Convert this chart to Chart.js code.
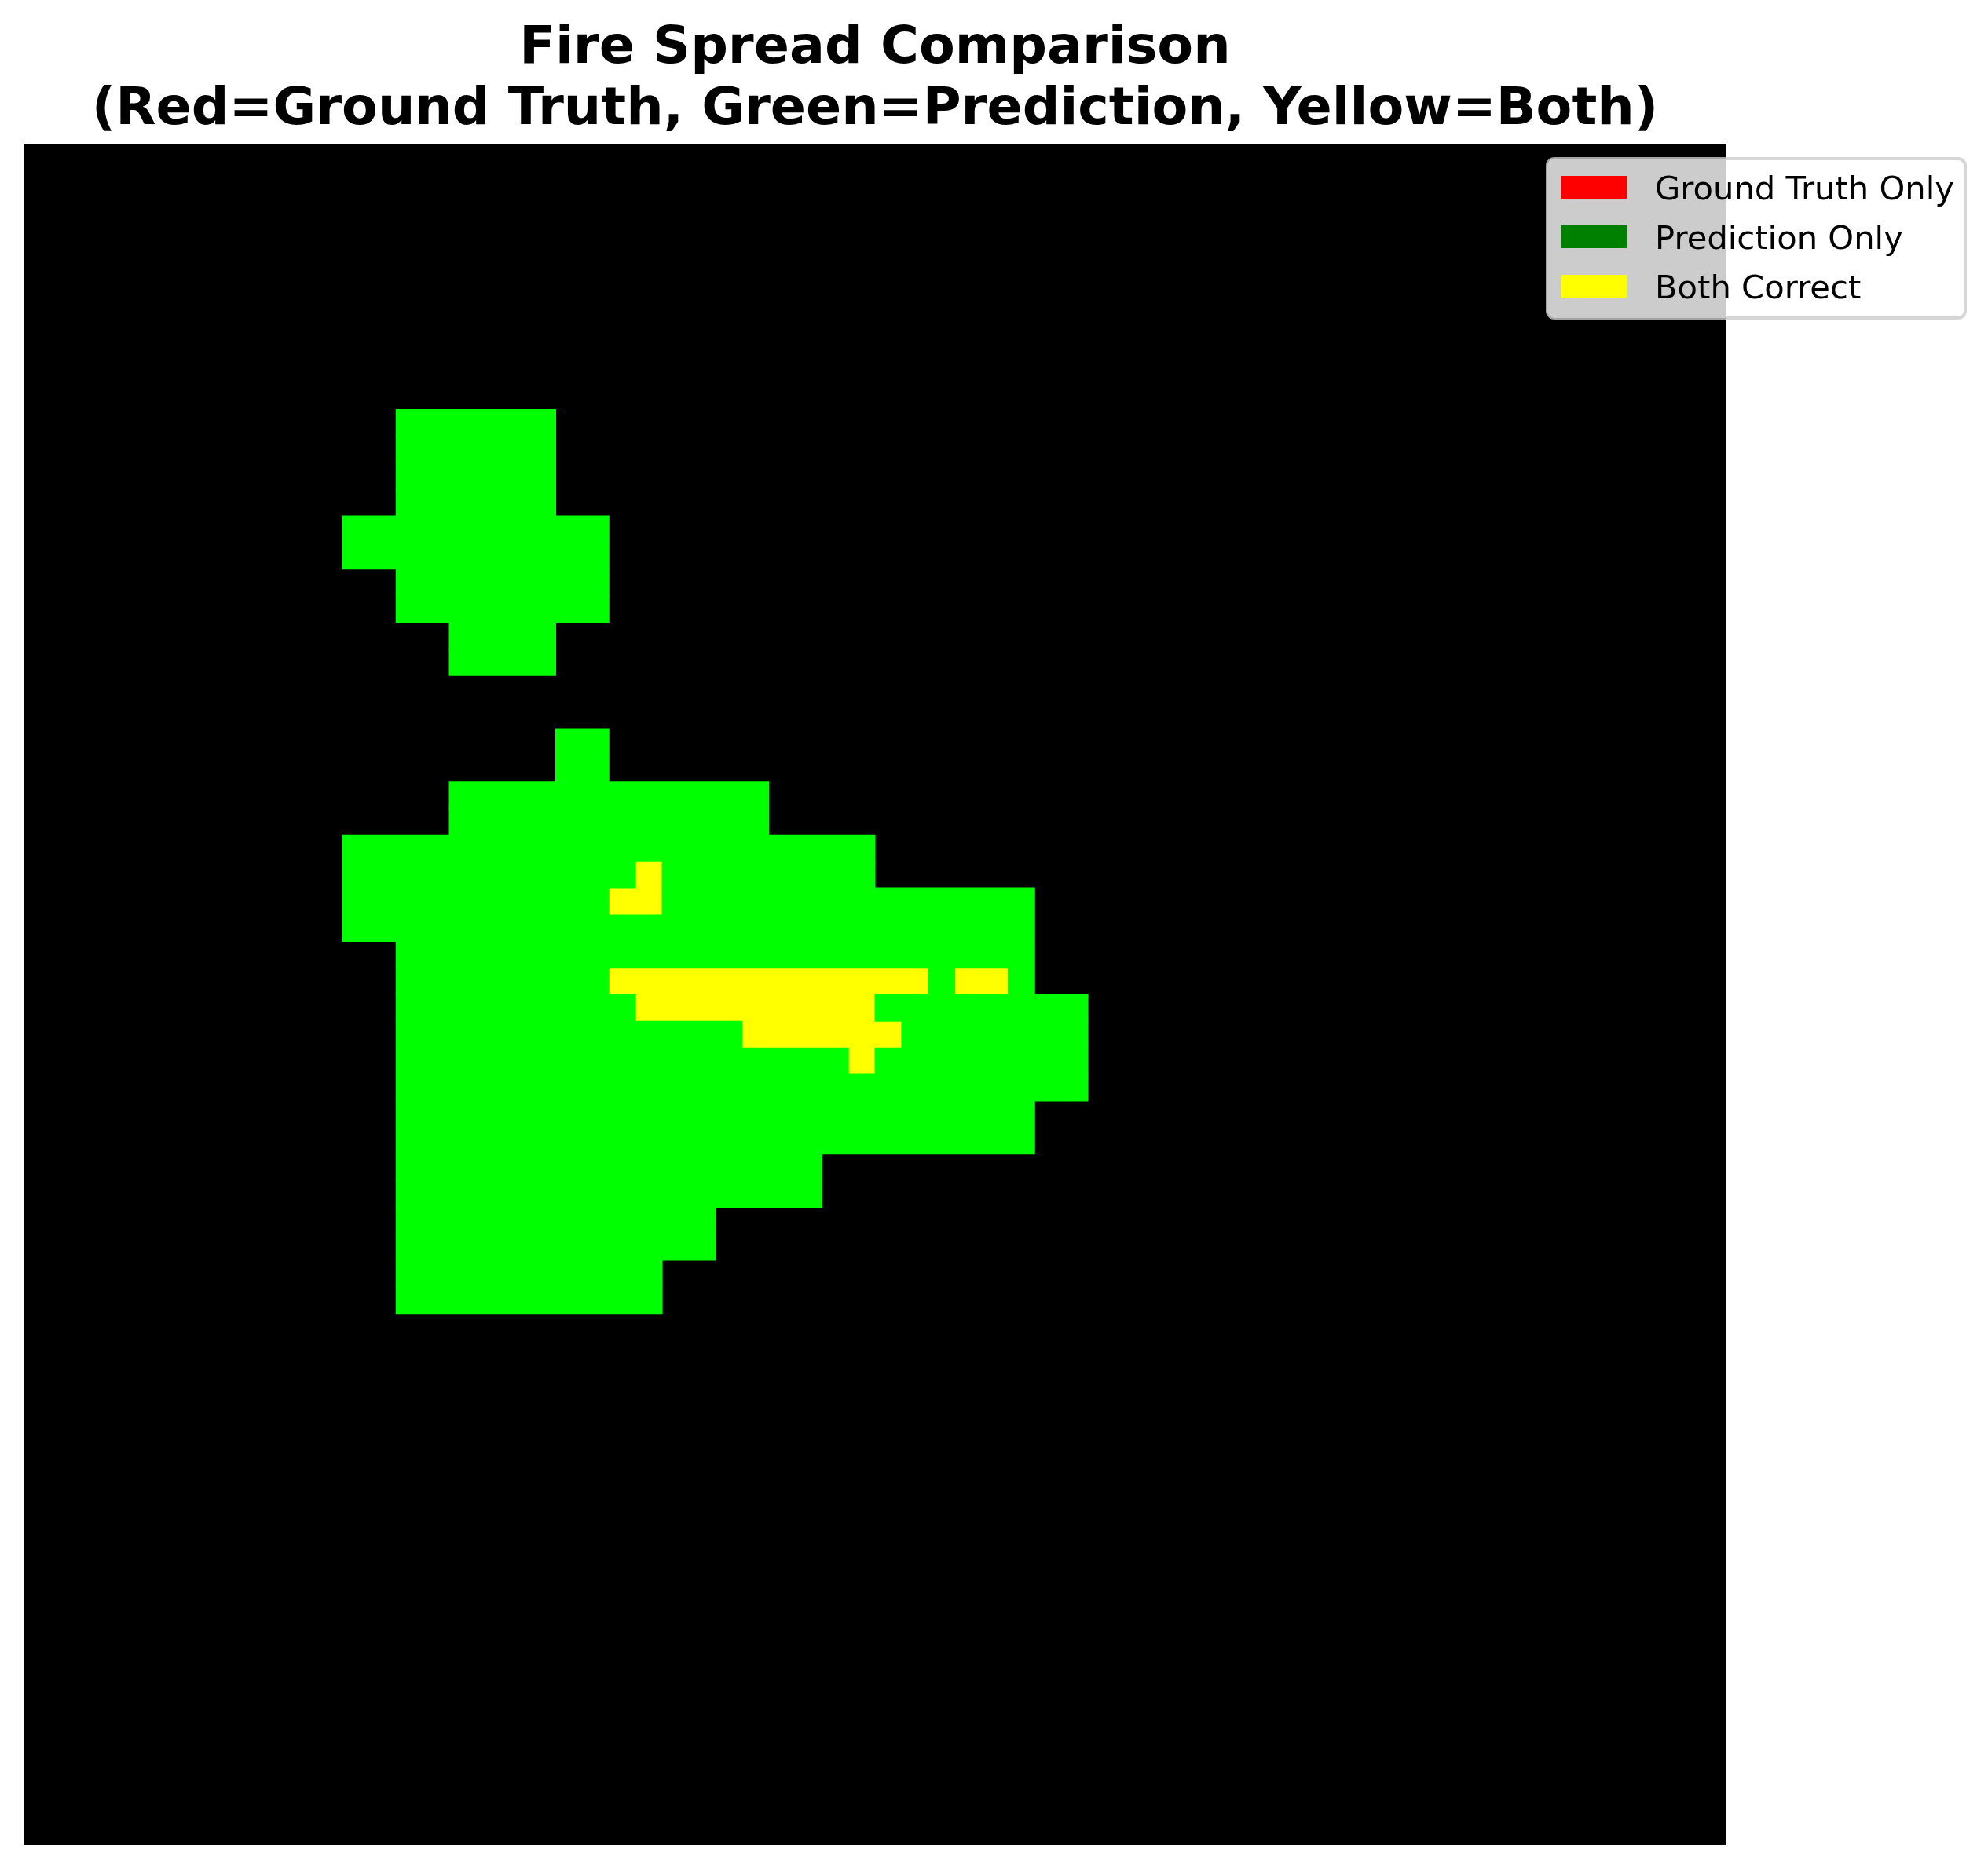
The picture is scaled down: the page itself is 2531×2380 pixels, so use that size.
<!DOCTYPE html>
<html>
<head>
<meta charset="utf-8">
<script src="https://cdn.jsdelivr.net/npm/chart.js@4.4.1/dist/chart.umd.min.js"></script>
<style>
  html, body { margin: 0; padding: 0; background: #ffffff; }
  canvas { display: block; }
</style>
</head>
<body>
<canvas id="c" width="2531" height="2380" style="width:2531px;height:2380px;"></canvas>
<script>
// ---------------- DATA ----------------
const gridSize = 64;                        // 64 x 64 cell grid
const titleLines = ['Fire Spread Comparison', '(Red=Ground Truth, Green=Prediction, Yellow=Both)'];
const classLabels = ['Ground Truth Only', 'Prediction Only', 'Both Correct'];

// Predicted fire cells: [rowStart, rowEnd, colStart, colEnd] (inclusive)
const predictionBlocks = [
  [10, 13, 14, 19],
  [14, 15, 12, 21],
  [16, 17, 14, 21],
  [18, 19, 16, 19],
  [22, 23, 20, 21],
  [24, 25, 16, 27],
  [26, 27, 12, 31],
  [28, 29, 12, 37],
  [30, 31, 14, 37],
  [32, 35, 14, 39],
  [36, 37, 14, 37],
  [38, 39, 14, 29],
  [40, 41, 14, 25],
  [42, 43, 14, 23]
];

// Ground-truth fire cells: [rowStart, rowEnd, colStart, colEnd] (inclusive)
const groundTruthBlocks = [
  [27, 27, 23, 23],
  [28, 28, 22, 23],
  [31, 31, 22, 33],
  [31, 31, 35, 36],
  [32, 32, 23, 31],
  [33, 33, 27, 32],
  [34, 34, 31, 31]
];

// ---------------- BUILD GRID ----------------
function maskFrom(blocks) {
  const m = [];
  for (let r = 0; r < gridSize; r++) m.push(new Array(gridSize).fill(false));
  blocks.forEach(([r0, r1, c0, c1]) => {
    for (let r = r0; r <= r1; r++) for (let c = c0; c <= c1; c++) m[r][c] = true;
  });
  return m;
}
const predMask = maskFrom(predictionBlocks);
const truthMask = maskFrom(groundTruthBlocks);

// class index: 0 = truth only, 1 = prediction only, 2 = both, -1 = none
function cellClass(r, c) {
  const p = predMask[r][c], t = truthMask[r][c];
  if (p && t) return 2;
  if (p) return 1;
  if (t) return 0;
  return -1;
}

const rowLabels = [];
for (let r = 0; r < gridSize; r++) rowLabels.push(String(r));

const runsByClass = [[], [], []];
for (let r = 0; r < gridSize; r++) {
  let c = 0;
  while (c < gridSize) {
    const k = cellClass(r, c);
    let e = c;
    while (e + 1 < gridSize && cellClass(r, e + 1) === k) e++;
    if (k >= 0) runsByClass[k].push({ y: rowLabels[r], x: [c, e + 1] });
    c = e + 1;
  }
}

// ---------------- STYLE ----------------
const cellColors = ['#ff0000', '#00ff00', '#ffff00'];
const legendColors = ['#ff0000', '#008000', '#ffff00'];

const blackAreaPlugin = {
  id: 'blackArea',
  beforeDatasetsDraw(chart) {
    const a = chart.chartArea, ctx = chart.ctx;
    ctx.save();
    ctx.fillStyle = '#000000';
    ctx.fillRect(a.left, a.top, a.right - a.left, a.bottom - a.top);
    ctx.restore();
  }
};

function roundRectPath(ctx, x, y, w, h, r) {
  ctx.beginPath();
  ctx.moveTo(x + r, y);
  ctx.lineTo(x + w - r, y);
  ctx.arcTo(x + w, y, x + w, y + r, r);
  ctx.lineTo(x + w, y + h - r);
  ctx.arcTo(x + w, y + h, x + w - r, y + h, r);
  ctx.lineTo(x + r, y + h);
  ctx.arcTo(x, y + h, x, y + h - r, r);
  ctx.lineTo(x, y + r);
  ctx.arcTo(x, y, x + r, y, r);
  ctx.closePath();
}

const mplLegendPlugin = {
  id: 'mplLegend',
  afterDraw(chart) {
    const ctx = chart.ctx, a = chart.chartArea;
    const x0 = a.right - 228, y0 = a.top + 19, w = 532, h = 203;
    ctx.save();
    roundRectPath(ctx, x0, y0, w, h, 9);
    ctx.fillStyle = 'rgba(255,255,255,0.8)';
    ctx.fill();
    ctx.lineWidth = 4;
    ctx.strokeStyle = 'rgba(204,204,204,0.8)';
    ctx.stroke();
    ctx.font = '41.7px "DejaVu Sans"';
    ctx.textBaseline = 'alphabetic';
    ctx.textAlign = 'left';
    chart.data.datasets.forEach((ds, i) => {
      ctx.fillStyle = legendColors[i];
      ctx.fillRect(x0 + 18, y0 + 22 + i * 63, 83, 29);
      ctx.fillStyle = '#000000';
      ctx.fillText(ds.label, x0 + 137, y0 + 52 + i * 63);
    });
    ctx.restore();
  }
};

new Chart(document.getElementById('c'), {
  type: 'bar',
  data: {
    labels: rowLabels,
    datasets: classLabels.map((lab, i) => ({
      label: lab,
      data: runsByClass[i],
      backgroundColor: cellColors[i],
      borderWidth: 0,
      grouped: false,
      barPercentage: 1.0,
      categoryPercentage: 1.0,
      inflateAmount: 0.5
    }))
  },
  options: {
    indexAxis: 'y',
    responsive: false,
    devicePixelRatio: 1,
    animation: false,
    events: [],
    layout: { padding: { left: 30, right: 333, top: 0, bottom: 30 } },
    scales: {
      x: { type: 'linear', min: 0, max: gridSize, display: false },
      y: { type: 'category', display: false, offset: true }
    },
    plugins: {
      legend: { display: false },
      tooltip: { enabled: false },
      title: {
        display: true,
        text: titleLines,
        color: '#000000',
        font: { family: '"DejaVu Sans"', size: 66.7, weight: 'bold', lineHeight: '78px' },
        padding: { top: 24, bottom: 3 }
      }
    }
  },
  plugins: [blackAreaPlugin, mplLegendPlugin]
});
</script>
</body>
</html>
